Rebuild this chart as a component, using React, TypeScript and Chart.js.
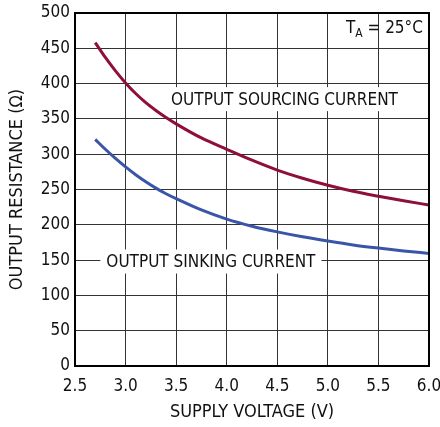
import React, { useEffect, useRef } from 'react'
import { Chart, registerables } from 'chart.js'

Chart.register(...registerables)

const voltage = [2.7, 2.8, 2.9, 3.0, 3.1, 3.2, 3.3, 3.4, 3.5, 3.75, 4.0, 4.25, 4.5, 4.75, 5.0, 5.25, 5.5, 5.75, 6.0]
const sourcing = [458, 437, 418, 401, 386, 373, 362, 352, 343, 323, 307, 291.5, 277.5, 266, 256, 247.5, 240.5, 234, 228]
const sinking = [321, 307, 294, 282, 271, 261, 252, 244, 237, 221, 208, 198, 190, 183, 177, 171.5, 167, 163, 159.5]

const xTicks = [2.5, 3.0, 3.5, 4.0, 4.5, 5.0, 5.5, 6.0]

const FONT = "'Liberation Sans Narrow', 'DejaVu Sans Condensed', sans-serif"

const labelsPlugin = {
  id: 'labels',
  beforeDatasetsDraw(chart: any) {
    const { ctx, scales } = chart
    const x = scales.x
    const y = scales.y
    ctx.save()
    ctx.font = `17px ${FONT}`
    ctx.textBaseline = 'middle'

    const put = (text: string, vx: number, vy: number) => {
      const px = x.getPixelForValue(vx)
      const py = y.getPixelForValue(vy)
      const w = ctx.measureText(text).width
      ctx.fillStyle = '#fff'
      ctx.fillRect(px - 6, py - 12, w + 12, 24)
      ctx.fillStyle = '#111'
      ctx.textAlign = 'left'
      ctx.fillText(text, px, py + 1)
    }
    put('OUTPUT SOURCING CURRENT', 3.45, 378)
    put('OUTPUT SINKING CURRENT', 2.81, 148)

    // T_A label
    const tx = x.getPixelForValue(5.94)
    const ty = y.getPixelForValue(478)
    ctx.textAlign = 'right'
    ctx.fillStyle = '#111'
    const tail = ' = 25°C'
    ctx.fillText(tail, tx, ty)
    const tailW = ctx.measureText(tail).width
    ctx.font = `12px ${FONT}`
    const aW = ctx.measureText('A').width
    ctx.fillText('A', tx - tailW, ty + 5)
    ctx.font = `17px ${FONT}`
    ctx.fillText('T', tx - tailW - aW, ty)
    ctx.restore()
  },
  afterDraw(chart: any) {
    const { ctx, chartArea } = chart
    ctx.save()
    ctx.strokeStyle = '#000'
    ctx.lineWidth = 2
    ctx.strokeRect(chartArea.left, chartArea.top, chartArea.right - chartArea.left, chartArea.bottom - chartArea.top)
    ctx.restore()
  },
}

const App: React.FC = () => {
  const chartRef = useRef<HTMLCanvasElement | null>(null)

  useEffect(() => {
    if (!chartRef.current) return
    const ctx = chartRef.current.getContext('2d')
    if (!ctx) return

    const myChart = new Chart(ctx, {
      type: 'line',
      data: {
        datasets: [
          {
            label: 'Output Sourcing Current',
            data: voltage.map((v, i) => ({ x: v, y: sourcing[i] })),
            borderColor: '#8e0f3a',
            borderWidth: 3,
            pointRadius: 0,
            cubicInterpolationMode: 'monotone',
          },
          {
            label: 'Output Sinking Current',
            data: voltage.map((v, i) => ({ x: v, y: sinking[i] })),
            borderColor: '#3a55a8',
            borderWidth: 3,
            pointRadius: 0,
            cubicInterpolationMode: 'monotone',
          },
        ],
      },
      options: {
        responsive: false,
        animation: false,
        devicePixelRatio: 1,
        layout: { padding: 0 },
        plugins: {
          legend: { display: false },
          tooltip: { enabled: false },
        },
        scales: {
          x: {
            type: 'linear',
            min: 2.5,
            max: 6.0,
            afterBuildTicks: (scale: any) => {
              scale.ticks = xTicks.map((v) => ({ value: v }))
            },
            afterFit: (scale: any) => {
              scale.height = 61
              scale.paddingLeft = 0
              scale.paddingRight = 11
            },
            ticks: {
              color: '#111',
              font: { family: FONT, size: 17 },
              padding: 10,
              maxRotation: 0,
              callback: (v: any) => Number(v).toFixed(1),
            },
            grid: { color: '#333', lineWidth: 1, drawTicks: false },
            border: { color: '#000', width: 2 },
            title: {
              display: true,
              text: 'SUPPLY VOLTAGE (V)',
              color: '#111',
              font: { family: FONT, size: 18 },
              padding: { top: 0, bottom: 4 },
            },
          },
          y: {
            min: 0,
            max: 500,
            afterFit: (scale: any) => {
              scale.width = 75
              scale.paddingTop = 13
              scale.paddingBottom = 0
            },
            ticks: {
              stepSize: 50,
              color: '#111',
              font: { family: FONT, size: 17 },
              padding: 5,
            },
            grid: { color: '#333', lineWidth: 1, drawTicks: false },
            border: { color: '#000', width: 2 },
            title: {
              display: true,
              text: 'OUTPUT RESISTANCE (Ω)',
              color: '#111',
              font: { family: FONT, size: 18 },
              padding: { top: 7, bottom: 0 },
            },
          },
        },
      },
      plugins: [labelsPlugin],
    })

    return () => {
      myChart.destroy()
    }
  }, [])

  return (
    <div style={{ position: 'fixed', left: 0, top: 0, width: '440px', height: '427px', background: '#fff' }}>
      <canvas ref={chartRef} width={440} height={427} />
    </div>
  )
}

export default App
